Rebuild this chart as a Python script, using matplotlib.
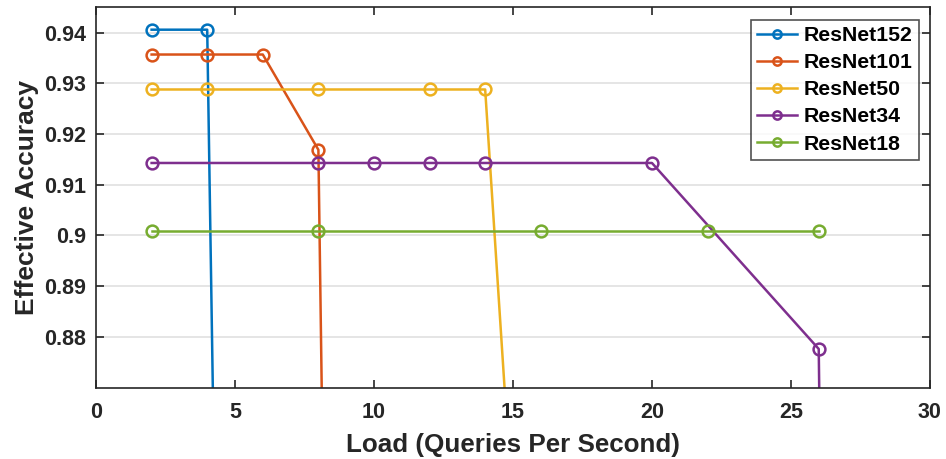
import matplotlib.pyplot as plt
import numpy as np

plt.rcParams['font.family'] = ['Liberation Sans', 'DejaVu Sans']
plt.rcParams['font.weight'] = 'bold'

# load (queries per second) and effective accuracy per model
x152 = [2, 4, 6]
y152 = [0.9406, 0.9406, 0.24]
x101 = [2, 4, 6, 8, 10]
y101 = [0.9357, 0.9357, 0.9357, 0.9169, 0.13]
x50 = [2, 4, 8, 12, 14, 16]
y50 = [0.9288, 0.9288, 0.9288, 0.9288, 0.9288, 0.76]
x34 = [2, 8, 10, 12, 14, 20, 26, 28]
y34 = [0.9143, 0.9143, 0.9143, 0.9143, 0.9143, 0.9143, 0.8776, 0.0]
x18 = [2, 8, 16, 22, 26]
y18 = [0.9009, 0.9009, 0.9009, 0.9009, 0.9009]

labels = ["ResNet152", "ResNet101", "ResNet50", "ResNet34", "ResNet18"]
colors = ["#0072BD", "#D95319", "#EDB120", "#7E2F8E", "#77AC30"]
series = [(x152, y152), (x101, y101), (x50, y50), (x34, y34), (x18, y18)]

fig, ax = plt.subplots(figsize=(9.46, 4.59), dpi=100)
fig.subplots_adjust(left=0.1015, right=0.983, top=0.985, bottom=0.1547)

for (xs, ys), lab, c in zip(series, labels, colors):
    ax.plot(xs, ys, color=c, linewidth=1.8, marker='o', markersize=8.5,
            markerfacecolor='none', markeredgewidth=1.8, label=lab)

ax.set_xlim(0, 30)
ax.set_ylim(0.8699, 0.9451)
ax.set_xticks(np.arange(0, 31, 5))
ax.set_yticks([0.88, 0.89, 0.90, 0.91, 0.92, 0.93, 0.94])
ax.set_yticklabels(["0.88", "0.89", "0.9", "0.91", "0.92", "0.93", "0.94"])
ax.grid(axis='y', color='#e0e0e0', linewidth=1.2)
ax.set_axisbelow(True)
ax.tick_params(direction='in', length=6, width=1.2, top=True, right=True,
               labelsize=15.5, colors='#262626', pad=7)
ax.tick_params(axis='x', pad=10)
for s in ax.spines.values():
    s.set_linewidth(1.2)
    s.set_color('#262626')

ax.set_xlabel('Load (Queries Per Second)', fontsize=18.7, fontweight='bold', color='#262626', labelpad=7)
ax.set_ylabel('Effective Accuracy', fontsize=19, fontweight='bold', color='#262626', labelpad=4)

leg = ax.legend(loc='upper right', fontsize=15.3, frameon=True, fancybox=False,
                edgecolor='#262626', handlelength=1.9, markerscale=0.7,
                borderpad=0.3, labelspacing=0.38, handletextpad=0.3,
                borderaxespad=0, bbox_to_anchor=(0.9868, 0.9659))
leg.get_frame().set_linewidth(1.2)

plt.savefig('out.png', dpi=100)
